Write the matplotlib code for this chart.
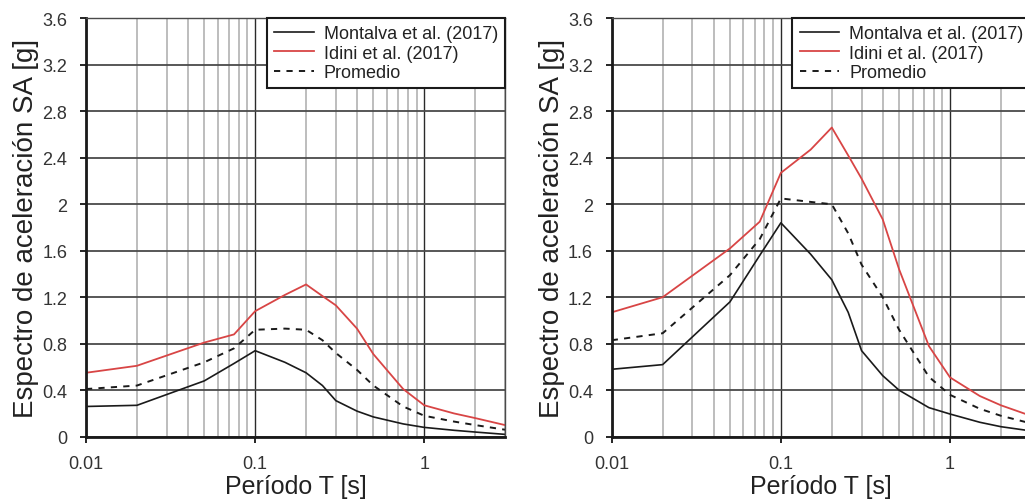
import matplotlib
matplotlib.use('Agg')
import matplotlib.pyplot as plt
from matplotlib.ticker import NullFormatter, LogLocator

plt.rcParams['font.family'] = ['Liberation Sans', 'DejaVu Sans']

# Periods (s)
periodos = [0.01, 0.02, 0.05, 0.075, 0.1, 0.15, 0.2, 0.25, 0.3, 0.4, 0.5, 0.75, 1, 1.5, 2, 3]

# Left panel
montalva_izq = [0.26, 0.27, 0.48, 0.63, 0.74, 0.64, 0.55, 0.44, 0.31, 0.22, 0.17, 0.11, 0.08, 0.055, 0.04, 0.02]
idini_izq = [0.55, 0.61, 0.81, 0.88, 1.08, 1.22, 1.31, 1.21, 1.13, 0.93, 0.71, 0.41, 0.27, 0.20, 0.16, 0.10]
promedio_izq = [0.41, 0.44, 0.64, 0.76, 0.92, 0.93, 0.92, 0.83, 0.72, 0.575, 0.44, 0.26, 0.18, 0.13, 0.10, 0.06]

# Right panel
montalva_der = [0.58, 0.62, 1.16, 1.56, 1.84, 1.57, 1.35, 1.07, 0.74, 0.525, 0.40, 0.25, 0.195, 0.124, 0.086, 0.05]
idini_der = [1.07, 1.20, 1.62, 1.85, 2.27, 2.47, 2.66, 2.42, 2.22, 1.87, 1.44, 0.78, 0.51, 0.35, 0.27, 0.18]
promedio_der = [0.83, 0.89, 1.39, 1.70, 2.05, 2.02, 2.00, 1.75, 1.48, 1.20, 0.92, 0.515, 0.36, 0.24, 0.18, 0.115]

etiquetas = ['Montalva et al. (2017)', 'Idini et al. (2017)', 'Promedio']
yticks = [0, 0.4, 0.8, 1.2, 1.6, 2, 2.4, 2.8, 3.2, 3.6]
ytick_labels = ['0', '0.4', '0.8', '1.2', '1.6', '2', '2.4', '2.8', '3.2', '3.6']
xticks = [0.01, 0.1, 1]
xtick_labels = ['0.01', '0.1', '1']

rojo = '#d84545'

fig = plt.figure(figsize=(10.25, 5.02), dpi=100)
ax1 = fig.add_axes([0.0839, 0.1281, 0.4088, 0.8335])
ax2 = fig.add_axes([0.5968, 0.1281, 0.4088, 0.8335])


def dibujar(ax, mont, idin, prom):
    ax.set_xscale('log')
    ax.set_xlim(0.01, 3)
    ax.set_ylim(0, 3.6)

    # grid
    ax.xaxis.set_minor_locator(LogLocator(base=10, subs=range(2, 10)))
    ax.xaxis.set_minor_formatter(NullFormatter())
    ax.grid(which='minor', axis='x', color='#b8b8b8', linewidth=1.3)
    ax.grid(which='major', axis='x', color='#2a2a2a', linewidth=1.0)
    ax.grid(which='major', axis='y', color='#4a4a4a', linewidth=1.3)
    ax.set_axisbelow(True)

    l1, = ax.plot(periodos, mont, color='#1a1a1a', lw=1.2)
    l2, = ax.plot(periodos, idin, color=rojo, lw=1.3)
    l3, = ax.plot(periodos, prom, color='#1a1a1a', lw=1.4, linestyle=(0, (3.2, 3.2)))

    ax.set_xticks(xticks)
    ax.set_xticklabels(xtick_labels)
    ax.set_yticks(yticks)
    ax.set_yticklabels(ytick_labels)
    ax.tick_params(axis='both', which='major', labelsize=13, labelcolor='#333333',
                   length=4, width=1.2, direction='out', pad=9.5)
    ax.tick_params(axis='x', which='minor', length=0)

    for s in ['left', 'bottom']:
        ax.spines[s].set_linewidth(2.0)
        ax.spines[s].set_color('#1a1a1a')
    for s in ['top', 'right']:
        ax.spines[s].set_linewidth(1.0)
        ax.spines[s].set_color('#4a4a4a')

    ax.set_xlabel('Período T [s]', fontsize=18, color='#222222', labelpad=1)
    ax.set_ylabel('Espectro de aceleración SA [g]', fontsize=20, color='#222222', labelpad=2)

    leg = ax.legend([l1, l2, l3], etiquetas, loc='upper right', fontsize=13,
                    frameon=True, fancybox=False, framealpha=1, edgecolor='#1a1a1a',
                    borderaxespad=0, labelspacing=0.12, handlelength=2.2,
                    handletextpad=0.55, borderpad=0.4)
    leg.get_frame().set_linewidth(1.5)
    for t in leg.get_texts():
        t.set_color('#222222')


dibujar(ax1, montalva_izq, idini_izq, promedio_izq)
dibujar(ax2, montalva_der, idini_der, promedio_der)

fig.savefig('out.png', dpi=100)
